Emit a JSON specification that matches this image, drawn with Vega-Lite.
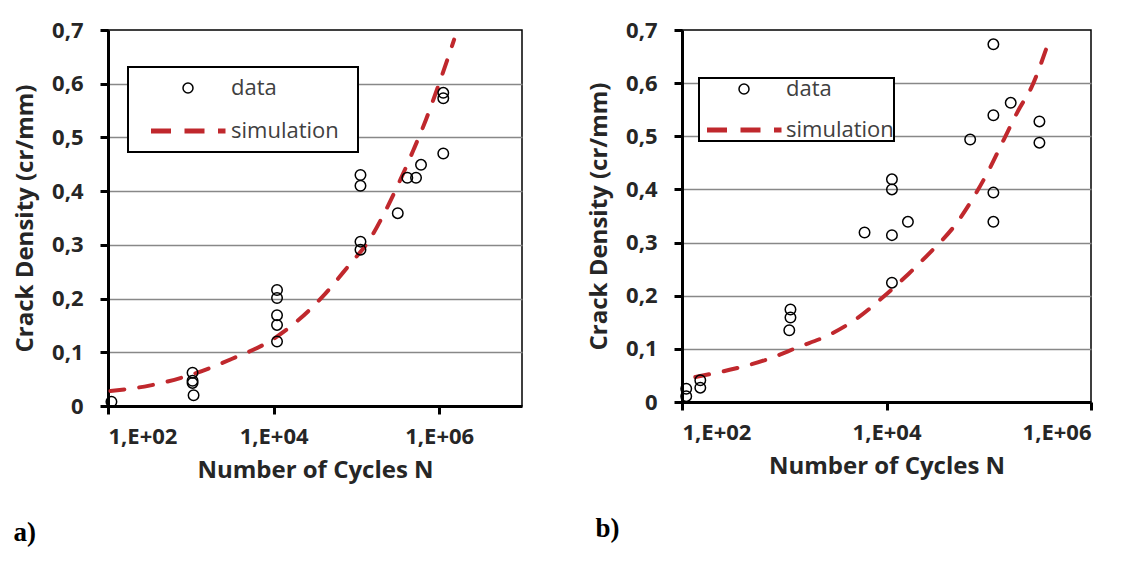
{
  "$schema": "https://vega.github.io/schema/vega-lite/v6.json",
  "padding": {"left": 12, "top": 18, "right": 0, "bottom": 0},
  "background": "white",
  "datasets": {
    "a_data": [
      {"N": 110, "y": 0.008, "series": "data"},
      {"N": 1050, "y": 0.062, "series": "data"},
      {"N": 1050, "y": 0.047, "series": "data"},
      {"N": 1050, "y": 0.043, "series": "data"},
      {"N": 1080, "y": 0.02, "series": "data"},
      {"N": 11000, "y": 0.216, "series": "data"},
      {"N": 11000, "y": 0.201, "series": "data"},
      {"N": 11000, "y": 0.169, "series": "data"},
      {"N": 11000, "y": 0.151, "series": "data"},
      {"N": 11000, "y": 0.12, "series": "data"},
      {"N": 112000, "y": 0.43, "series": "data"},
      {"N": 112000, "y": 0.41, "series": "data"},
      {"N": 112000, "y": 0.306, "series": "data"},
      {"N": 112000, "y": 0.291, "series": "data"},
      {"N": 316000, "y": 0.359, "series": "data"},
      {"N": 412000, "y": 0.425, "series": "data"},
      {"N": 525000, "y": 0.425, "series": "data"},
      {"N": 603000, "y": 0.449, "series": "data"},
      {"N": 1120000, "y": 0.583, "series": "data"},
      {"N": 1120000, "y": 0.573, "series": "data"},
      {"N": 1120000, "y": 0.47, "series": "data"}
    ],
    "a_sim": [
      {"N": 107, "y": 0.028},
      {"N": 316, "y": 0.038},
      {"N": 1000, "y": 0.058},
      {"N": 3162, "y": 0.088},
      {"N": 10000, "y": 0.125},
      {"N": 19953, "y": 0.16},
      {"N": 39811, "y": 0.205},
      {"N": 79433, "y": 0.26},
      {"N": 144544, "y": 0.31},
      {"N": 223872, "y": 0.363},
      {"N": 338844, "y": 0.421},
      {"N": 489779, "y": 0.477},
      {"N": 691831, "y": 0.533},
      {"N": 954993, "y": 0.592},
      {"N": 1513561, "y": 0.682}
    ],
    "b_data": [
      {"N": 110, "y": 0.025, "series": "data"},
      {"N": 110, "y": 0.011, "series": "data"},
      {"N": 151, "y": 0.041, "series": "data"},
      {"N": 151, "y": 0.027, "series": "data"},
      {"N": 1150, "y": 0.174, "series": "data"},
      {"N": 1150, "y": 0.159, "series": "data"},
      {"N": 1120, "y": 0.135, "series": "data"},
      {"N": 6100, "y": 0.319, "series": "data"},
      {"N": 11300, "y": 0.419, "series": "data"},
      {"N": 11300, "y": 0.4, "series": "data"},
      {"N": 11300, "y": 0.314, "series": "data"},
      {"N": 11300, "y": 0.2245, "series": "data"},
      {"N": 16200, "y": 0.339, "series": "data"},
      {"N": 65800, "y": 0.494, "series": "data"},
      {"N": 111000, "y": 0.673, "series": "data"},
      {"N": 111000, "y": 0.5395, "series": "data"},
      {"N": 111000, "y": 0.394, "series": "data"},
      {"N": 111000, "y": 0.339, "series": "data"},
      {"N": 164000, "y": 0.563, "series": "data"},
      {"N": 313000, "y": 0.528, "series": "data"},
      {"N": 313000, "y": 0.488, "series": "data"}
    ],
    "b_sim": [
      {"N": 135, "y": 0.047},
      {"N": 331, "y": 0.063},
      {"N": 676, "y": 0.08},
      {"N": 1380, "y": 0.1035},
      {"N": 2692, "y": 0.1255},
      {"N": 5129, "y": 0.157},
      {"N": 9333, "y": 0.198},
      {"N": 16406, "y": 0.241},
      {"N": 28840, "y": 0.288},
      {"N": 45186, "y": 0.329},
      {"N": 68391, "y": 0.38},
      {"N": 100000, "y": 0.436},
      {"N": 139316, "y": 0.4925},
      {"N": 194984, "y": 0.549},
      {"N": 263027, "y": 0.593},
      {"N": 383707, "y": 0.677}
    ]
  },
  "spacing": 63,
  "hconcat": [
    {
      "width": 414,
      "height": 376,
      "title": {"text": "a)", "orient": "bottom", "anchor": "start", "font": "Liberation Serif", "fontSize": 27, "fontWeight": "bold", "color": "black", "offset": 38},
      "resolve": {"scale": {"stroke": "independent", "shape": "independent", "strokeWidth": "independent"}},
      "layer": [
        {
          "data": {"name": "a_sim"},
          "mark": {"type": "line", "color": "#c0282d", "strokeWidth": 4, "strokeDash": [14, 15], "strokeCap": "round", "interpolate": "monotone"},
          "encoding": {
            "x": {"field": "N", "type": "quantitative", "scale": {"type": "log", "domain": [100, 10000000], "nice": false}},
            "y": {"field": "y", "type": "quantitative", "scale": {"domain": [0, 0.7], "nice": false}}
          }
        },
        {
          "data": {"name": "a_data"},
          "mark": {"type": "point", "filled": false, "size": 110, "opacity": 1},
          "encoding": {
            "x": {"field": "N", "type": "quantitative", "scale": {"type": "log", "domain": [100, 10000000], "nice": false},
              "axis": {"title": "Number of Cycles N", "values": [100, 10000, 1000000], "labelExpr": "'1,E+0' + round(log(datum.value)/LN10)", "grid": false, "tickSize": 8, "labelPadding": 12, "titlePadding": 11}},
            "y": {"field": "y", "type": "quantitative", "scale": {"domain": [0, 0.7], "nice": false},
              "axis": {"title": "Crack Density (cr/mm)", "values": [0, 0.05, 0.1, 0.15, 0.2, 0.25, 0.3, 0.35, 0.4, 0.45, 0.5, 0.55, 0.6, 0.65, 0.7],
                "labelExpr": "round(datum.value*20) % 2 == 1 ? '' : replace(format(datum.value, '.1~f'), '.', ',')",
                "grid": true,
                "gridOpacity": {"condition": {"test": "round(datum.value*20) % 2 == 1 || datum.value < 0.01 || datum.value > 0.69", "value": 0}, "value": 1},
                "tickSize": {"condition": {"test": "round(datum.value*20) % 2 == 1", "value": 5}, "value": 8},
                "labelPadding": 17, "titlePadding": 14}},
            "stroke": {"field": "series", "type": "nominal", "scale": {"domain": ["data", "simulation"], "range": ["#000000", "#c0282d"]},
              "legend": {"orient": "none", "legendX": 20, "legendY": 37, "title": null, "padding": 10, "symbolOffset": 39, "labelOffset": 32, "rowPadding": 21, "symbolOpacity": 1}},
            "shape": {"field": "series", "type": "nominal", "scale": {"domain": ["data", "simulation"], "range": ["circle", "M-7.4,0H-3.4M-0.7,0H3.3M6,0H7.5M30,0"]},
              "legend": {"orient": "none", "legendX": 20, "legendY": 37, "title": null, "padding": 10, "symbolOffset": 39, "labelOffset": 32, "rowPadding": 21, "symbolOpacity": 1}},
            "strokeWidth": {"field": "series", "type": "nominal", "scale": {"type": "ordinal", "domain": ["data", "simulation"], "range": [1.5, 5]},
              "legend": {"orient": "none", "legendX": 20, "legendY": 37, "title": null, "padding": 10, "symbolOffset": 39, "labelOffset": 32, "rowPadding": 21, "symbolOpacity": 1}}
          }
        }
      ]
    },
    {
      "width": 409,
      "height": 372,
      "title": {"text": "b)", "orient": "bottom", "anchor": "start", "font": "Liberation Serif", "fontSize": 27, "fontWeight": "bold", "color": "black", "offset": 38, "dx": 8},
      "resolve": {"scale": {"stroke": "independent", "shape": "independent", "strokeWidth": "independent"}},
      "layer": [
        {
          "data": {"name": "b_sim"},
          "mark": {"type": "line", "color": "#c0282d", "strokeWidth": 4, "strokeDash": [14, 15], "strokeCap": "round", "interpolate": "monotone"},
          "encoding": {
            "x": {"field": "N", "type": "quantitative", "scale": {"type": "log", "domain": [100, 1000000], "nice": false}},
            "y": {"field": "y", "type": "quantitative", "scale": {"domain": [0, 0.7], "nice": false}}
          }
        },
        {
          "data": {"name": "b_data"},
          "mark": {"type": "point", "filled": false, "size": 110, "opacity": 1},
          "encoding": {
            "x": {"field": "N", "type": "quantitative", "scale": {"type": "log", "domain": [100, 1000000], "nice": false},
              "axis": {"title": "Number of Cycles N", "values": [100, 10000, 1000000], "labelExpr": "'1,E+0' + round(log(datum.value)/LN10)", "grid": false, "tickSize": 8, "labelPadding": 12, "titlePadding": 11}},
            "y": {"field": "y", "type": "quantitative", "scale": {"domain": [0, 0.7], "nice": false},
              "axis": {"title": "Crack Density (cr/mm)", "values": [0, 0.05, 0.1, 0.15, 0.2, 0.25, 0.3, 0.35, 0.4, 0.45, 0.5, 0.55, 0.6, 0.65, 0.7],
                "labelExpr": "round(datum.value*20) % 2 == 1 ? '' : replace(format(datum.value, '.1~f'), '.', ',')",
                "grid": true,
                "gridOpacity": {"condition": {"test": "round(datum.value*20) % 2 == 1 || datum.value < 0.01 || datum.value > 0.69", "value": 0}, "value": 1},
                "tickSize": {"condition": {"test": "round(datum.value*20) % 2 == 1", "value": 5}, "value": 8},
                "labelPadding": 17, "titlePadding": 14}},
            "stroke": {"field": "series", "type": "nominal", "scale": {"domain": ["data", "simulation"], "range": ["#000000", "#c0282d"]},
              "legend": {"orient": "none", "legendX": 17, "legendY": 48, "title": null, "padding": 0, "symbolOffset": 34, "labelOffset": 31, "rowPadding": 19, "symbolOpacity": 1}},
            "shape": {"field": "series", "type": "nominal", "scale": {"domain": ["data", "simulation"], "range": ["circle", "M-7.4,0H-3.4M-0.7,0H3.3M6,0H7.5"]},
              "legend": {"orient": "none", "legendX": 17, "legendY": 48, "title": null, "padding": 0, "symbolOffset": 34, "labelOffset": 31, "rowPadding": 19, "symbolOpacity": 1}},
            "strokeWidth": {"field": "series", "type": "nominal", "scale": {"type": "ordinal", "domain": ["data", "simulation"], "range": [1.5, 5]},
              "legend": {"orient": "none", "legendX": 17, "legendY": 48, "title": null, "padding": 0, "symbolOffset": 34, "labelOffset": 31, "rowPadding": 19, "symbolOpacity": 1}}
          }
        }
      ]
    }
  ],
  "config": {
    "view": {"stroke": "black", "strokeWidth": 1.5},
    "font": "Open Sans",
    "axis": {
      "domainColor": "black", "domainWidth": 3, "tickColor": "black", "tickWidth": 3,
      "labelFont": "Open Sans", "labelFontWeight": "bold", "labelFontSize": 22, "labelColor": "#262626",
      "titleFont": "Open Sans", "titleFontWeight": "bold", "titleFontSize": 24, "titleColor": "#262626",
      "gridColor": "#888888", "gridWidth": 1.5
    },
    "legend": {
      "strokeColor": "black", "strokeWidth": 2, "fillColor": "white",
      "symbolSize": 100, "labelFont": "Open Sans", "labelFontSize": 22, "labelColor": "#404040"
    }
  }
}
